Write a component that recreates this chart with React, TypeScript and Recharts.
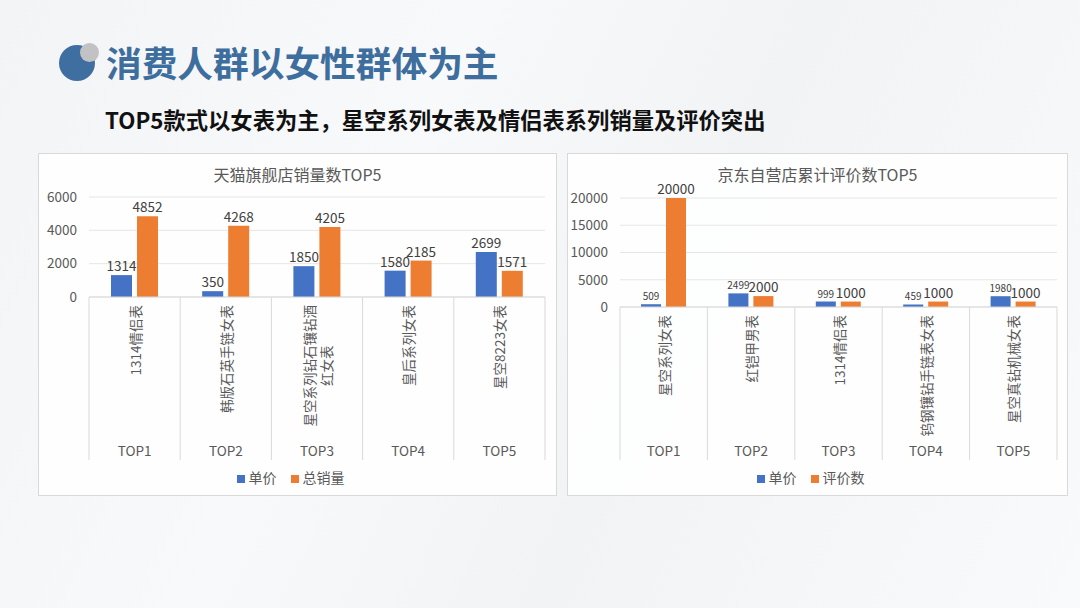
import { BarChart, Bar, XAxis, YAxis, CartesianGrid, Legend, LabelList } from "recharts"

const FONT = '"Noto Sans CJK SC", "Noto Sans", sans-serif'
const BLUE = "#4472c4"
const ORANGE = "#ed7d31"
const TEXT = "#595959"

const ranks = ["TOP1", "TOP2", "TOP3", "TOP4", "TOP5"]

// 天猫旗舰店
const tmallNames = ["1314情侣表", "韩版石英手链女表", "星空系列钻石镶钻酒\n红女表", "皇后系列女表", "星空8223女表"]
const tmallPrice = [1314, 350, 1850, 1580, 2699]
const tmallSales = [4852, 4268, 4205, 2185, 1571]
const tmallTicks = [0, 2000, 4000, 6000]

// 京东自营店
const jdNames = ["星空系列女表", "红铠甲男表", "1314情侣表", "钨钢镶钻手链表女表", "星空真钻机械女表"]
const jdPrice = [509, 2499, 999, 459, 1980]
const jdReviews = [20000, 2000, 1000, 1000, 1000]
const jdTicks = [0, 5000, 10000, 15000, 20000]

const tmallData = ranks.map((r, i) => ({ rank: r, price: tmallPrice[i], total: tmallSales[i] }))
const jdData = ranks.map((r, i) => ({ rank: r, price: jdPrice[i], total: jdReviews[i] }))

const FS = 13.5

function textWidth(s: string) {
  let w = 0
  for (const c of s) w += /[\x00-\x7f]/.test(c) ? FS * 0.56 : FS
  return w
}

// eslint-disable-next-line @typescript-eslint/no-explicit-any
function CategoryTick({ x, y, index, names, band, depth, rankY }: any) {
  const lines: string[] = names[index].split("\n")
  const top = y + 8
  const left = x - band / 2
  const right = x + band / 2
  const first = textWidth(lines[0])
  return (
    <g>
      <line x1={left} y1={y} x2={left} y2={y + depth} stroke="#d9d9d9" />
      {index === names.length - 1 && <line x1={right} y1={y} x2={right} y2={y + depth} stroke="#d9d9d9" />}
      {lines.map((ln, i) => {
        const lx = x + (i - (lines.length - 1) / 2) * 17
        const ly = i === 0 ? top : top + first / 2
        return (
          <text
            key={i}
            x={lx}
            y={ly}
            transform={`rotate(-90, ${lx}, ${ly})`}
            textAnchor={i === 0 ? "end" : "middle"}
            dominantBaseline="central"
            fontSize={FS}
            fill={TEXT}
            fontFamily={FONT}
          >
            {ln}
          </text>
        )
      })}
      <text x={x} y={y + rankY} textAnchor="middle" dominantBaseline="central" fontSize={FS} fill={TEXT} fontFamily={FONT}>
        {ranks[index]}
      </text>
    </g>
  )
}

// eslint-disable-next-line @typescript-eslint/no-explicit-any
function Panel({ left, width, title, data, names, ticks, max, yWidth, marginTop, marginRight, axisH, rankY, barSize, priceFont, totalName }: any) {
  const height = 343
  const band = (width - yWidth - marginRight) / 5
  return (
    <div
      style={{
        position: "absolute",
        left,
        top: 153,
        width,
        height,
        boxSizing: "border-box",
        border: "1px solid #d9d9d9",
        background: "rgba(255,255,255,0.85)",
      }}
    >
      <div
        style={{
          position: "absolute",
          left: 0,
          top: 8,
          width: "100%",
          textAlign: "center",
          fontSize: 16,
          color: TEXT,
          fontFamily: FONT,
          lineHeight: "24px",
        }}
      >
        {title}
      </div>
      <BarChart
        width={width - 2}
        height={height - 2}
        data={data}
        margin={{ top: marginTop - 1, right: marginRight - 1, left: 0, bottom: 35 }}
        barGap={5}
        barSize={barSize}
      >
        <CartesianGrid vertical={false} stroke="#e6e6e6" />
        <XAxis
          dataKey="rank"
          height={axisH}
          tickSize={0}
          tickMargin={0}
          interval={0}
          axisLine={{ stroke: "#d9d9d9" }}
          tickLine={false}
          tick={(p) => <CategoryTick {...p} names={names} band={band} depth={axisH} rankY={rankY} />}
        />
        <YAxis
          width={yWidth - 1}
          domain={[0, max]}
          ticks={ticks}
          axisLine={false}
          tickLine={false}
          tickSize={0}
          tickMargin={12}
          tick={{ fontSize: FS, fill: TEXT, fontFamily: FONT }}
        />
        <Legend
          verticalAlign="middle"
          align="center"
          layout="horizontal"
          iconType="square"
          iconSize={8}
          wrapperStyle={{ top: 313, left: 0, width: width - 2, fontFamily: FONT, fontSize: 14 }}
          formatter={(v) => <span style={{ color: TEXT, marginRight: 4 }}>{v}</span>}
        />
        <Bar dataKey="price" name="单价" fill={BLUE} isAnimationActive={false}>
          <LabelList dataKey="price" position="top" offset={4} fill="#404040" fontSize={priceFont} fontFamily={FONT} />
        </Bar>
        <Bar dataKey="total" name={totalName} fill={ORANGE} isAnimationActive={false}>
          <LabelList dataKey="total" position="top" offset={4} fill="#404040" fontSize={FS} fontFamily={FONT} />
        </Bar>
      </BarChart>
    </div>
  )
}

export default function App() {
  return (
    <div
      style={{
        position: "absolute",
        left: 0,
        top: 0,
        width: 1080,
        height: 608,
        overflow: "hidden",
        fontFamily: FONT,
        background: "linear-gradient(115deg, #f3f4f6 0%, #f8f9fa 35%, #f2f3f5 60%, #f9fafb 100%)",
      }}
    >
      <div style={{ position: "absolute", left: 59, top: 45, width: 36, height: 36, borderRadius: "50%", background: "#3e6fa0" }} />
      <div style={{ position: "absolute", left: 80, top: 43, width: 19, height: 19, borderRadius: "50%", background: "#c2c2c4" }} />
      <div
        style={{
          position: "absolute",
          left: 106,
          top: 39,
          fontSize: 35.7,
          fontWeight: 700,
          color: "#3d6e9d",
          lineHeight: "46px",
        }}
      >
        消费人群以女性群体为主
      </div>
      <div
        style={{
          position: "absolute",
          left: 105,
          top: 104,
          fontSize: 22.3,
          fontWeight: 700,
          color: "#111",
          lineHeight: "30px",
        }}
      >
        TOP5款式以女表为主，星空系列女表及情侣表系列销量及评价突出
      </div>
      <Panel
        left={38}
        width={519}
        title="天猫旗舰店销量数TOP5"
        data={tmallData}
        names={tmallNames}
        ticks={tmallTicks}
        max={6000}
        yWidth={51}
        marginTop={44}
        marginRight={12}
        axisH={163}
        rankY={153}
        barSize={21}
        priceFont={FS}
        totalName="总销量"
      />
      <Panel
        left={567}
        width={501}
        title="京东自营店累计评价数TOP5"
        data={jdData}
        names={jdNames}
        ticks={jdTicks}
        max={20000}
        yWidth={53}
        marginTop={45}
        marginRight={11}
        axisH={153}
        rankY={143}
        barSize={20}
        priceFont={10}
        totalName="评价数"
      />
    </div>
  )
}
